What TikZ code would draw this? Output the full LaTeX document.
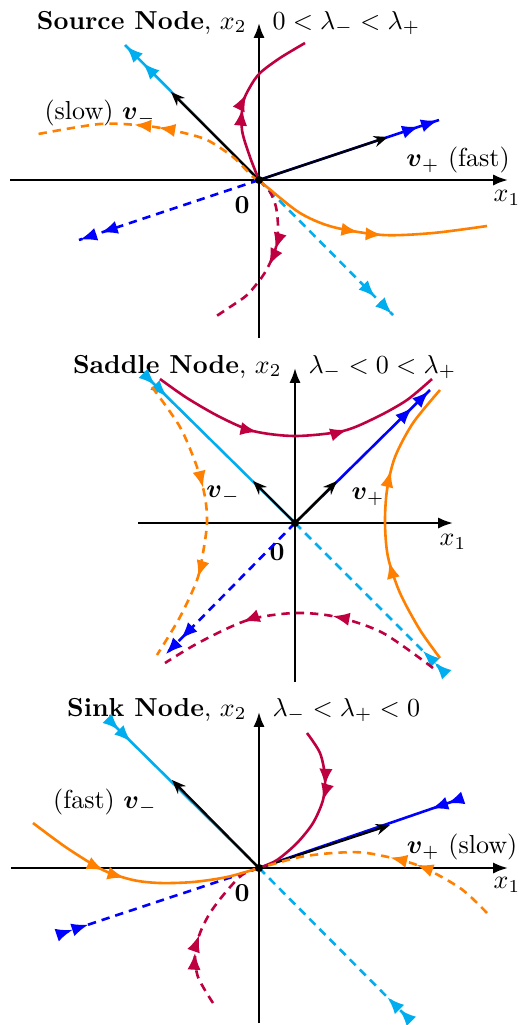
\documentclass[tikz,border=0pt]{standalone}
\usepackage{amsmath,amssymb}
\usepackage{xcolor}
\usepackage{tikz}
\usetikzlibrary{arrows.meta,positioning,decorations.markings}
\definecolor{EigCyan}{HTML}{00AEEF}
\definecolor{EigBlue}{HTML}{0000FF}
\definecolor{TrajRed}{HTML}{BF0040}
\definecolor{TrajOrange}{HTML}{FF8000}

\begin{document}
\begin{tikzpicture}[
  x=0.0135cm, y=0.0135cm,
  axis/.style={line width=0.9pt, -{Latex[length=2mm,width=1.5mm]}},
  vec/.style={line width=0.9pt, black, -{Stealth[length=1.9mm,width=1.5mm]}},
  eig/.style={line width=1pt},
  traj/.style={line width=1pt},
  dashes/.style={dash pattern=on 3.2pt off 2.3pt},
  tips/.style 2 args={postaction={decorate}, decoration={markings,
    mark=at position #1 with {\arrow{Latex[length=2.3mm,width=1.8mm]}},
    mark=at position #2 with {\arrow{Latex[length=2.3mm,width=1.8mm]}}}},
  rtips/.style 2 args={postaction={decorate}, decoration={markings,
    mark=at position #1 with {\arrowreversed{Latex[length=2.3mm,width=1.8mm]}},
    mark=at position #2 with {\arrowreversed{Latex[length=2.3mm,width=1.8mm]}}}},
  origin/.style={circle, fill=black, inner sep=0pt, minimum size=1.1mm},
  head/.style={inner sep=0pt},
  lbl/.style={inner sep=1pt}
]
\useasboundingbox (0,0) rectangle (521,-1025);

% source node
\begin{scope}[shift={(259,-180)}]
\draw[axis] (-249,0) -- (249,0);
\draw[axis] (0,-158) -- (0,157);
\node[head, anchor=base east] (src) at (-12,151) {\textbf{Source Node}, $x_2$};
\node[head, anchor=base west] (srccond) at (13,151) {$0<\lambda_-<\lambda_+$};
\node (xa1) at (248,-18) {$x_1$};
\node (zero1) at (-17,-25) {$\mathbf{0}$};
\draw[eig, EigCyan, tips={0.87}{0.995}] (0,0) -- (-134,135);
\draw[eig, EigCyan, dashes, tips={0.87}{0.995}] (0,0) -- (134,-135);
\draw[eig, EigBlue, tips={0.89}{0.995}] (0,0) -- (180,60);
\draw[eig, EigBlue, dashes, tips={0.88}{0.995}] (0,0) -- (-180,-60);
\draw[vec] (0,0) -- (-88,88);
\draw[vec] (0,0) -- (129,43);
\draw[traj, TrajRed, tips={0.44}{0.53}] plot[smooth] coordinates
  {(0,0) (-9,23) (-17,50) (-16,77) (-9,93) (1,107) (21,122) (46,137)};
\draw[traj, TrajRed, dashes, tips={0.45}{0.55}] plot[smooth] coordinates
  {(0,0) (11,-12) (17,-27) (19,-47) (17,-67) (11,-83) (3,-97) (-12,-115) (-29,-127) (-44,-137)};
\draw[traj, TrajOrange, tips={0.47}{0.57}] plot[smooth] coordinates
  {(0,0) (8,-7) (41,-33) (74,-47) (124,-55) (174,-53) (228,-46)};
\draw[traj, TrajOrange, dashes, tips={0.48}{0.58}] plot[smooth] coordinates
  {(0,0) (-6,3) (-26,23) (-52,40) (-79,48) (-112,54) (-159,56) (-226,45)};
\node[lbl] (slow1) at (-159,67) {(slow) $\boldsymbol{v}_-$};
\node[lbl] (fast1) at (199,20) {$\boldsymbol{v}_+$ (fast)};
\node[origin] (O1) at (0,0) {};
\end{scope}

% saddle node
\begin{scope}[shift={(295,-523)}]
\draw[axis] (-157,0) -- (158,0);
\draw[axis] (0,-159) -- (0,155);
\node[head, anchor=base east] (sad) at (-13,150) {\textbf{Saddle Node}, $x_2$};
\node[head, anchor=base west] (sadcond) at (13,150) {$\lambda_-<0<\lambda_+$};
\node (xa2) at (158,-19) {$x_1$};
\node (zero2) at (-18,-29) {$\mathbf{0}$};
\draw[eig, EigCyan, rtips={0.87}{0.95}] (0,0) -- (-147,145);
\draw[eig, EigCyan, dashes, rtips={0.87}{0.95}] (0,0) -- (147,-147);
\draw[eig, EigBlue, tips={0.87}{0.995}] (0,0) -- (135,133);
\draw[eig, EigBlue, dashes, tips={0.88}{0.995}] (0,0) -- (-130,-132);
\draw[vec] (0,0) -- (-42,42);
\draw[vec] (0,0) -- (42,42);
\draw[traj, TrajRed, tips={0.37}{0.67}] plot[smooth] coordinates
  {(-135,144) (-108,125) (-75,106) (-42,92) (0,87) (48,92) (82,106) (112,123) (137,144)};
\draw[traj, TrajRed, dashes, tips={0.39}{0.70}] plot[smooth] coordinates
  {(138,-145) (88,-110) (42,-94) (0,-90) (-47,-97) (-95,-119) (-130,-140)};
\draw[traj, TrajOrange, dashes, tips={0.39}{0.70}] plot[smooth] coordinates
  {(-143,136) (-115,96) (-98,56) (-90,26) (-88,0) (-92,-30) (-98,-57) (-115,-94) (-138,-132)};
\draw[traj, TrajOrange, tips={0.37}{0.68}] plot[smooth] coordinates
  {(145,-135) (125,-107) (105,-70) (93,-34) (90,0) (92,33) (100,66) (118,100) (145,133)};
\node[lbl] (vm2) at (-72,28) {$\boldsymbol{v}_-$};
\node[lbl] (vp2) at (73,26) {$\boldsymbol{v}_+$};
\node[origin] (O2) at (0,0) {};
\end{scope}

% sink node
\begin{scope}[shift={(259,-868)}]
\draw[axis] (-248,0) -- (249,0);
\draw[axis] (0,-155) -- (0,156);
\node[head, anchor=base east] (snk) at (-12,152) {\textbf{Sink Node}, $x_2$};
\node[head, anchor=base west] (snkcond) at (13,152) {$\lambda_-<\lambda_+<0$};
\node (xa3) at (248,-17) {$x_1$};
\node (zero3) at (-17,-25) {$\mathbf{0}$};
\draw[eig, EigCyan, rtips={0.87}{0.95}] (0,0) -- (-147,145);
\draw[eig, EigCyan, dashes, rtips={0.87}{0.95}] (0,0) -- (148,-149);
\draw[eig, EigBlue, rtips={0.87}{0.95}] (0,0) -- (198,68);
\draw[eig, EigBlue, dashes, rtips={0.87}{0.95}] (0,0) -- (-196,-65);
\draw[vec] (0,0) -- (-87,88);
\draw[vec] (0,0) -- (131,43);
\draw[traj, TrajRed, tips={0.34}{0.43}] plot[smooth] coordinates
  {(48,135) (61,115) (66,91) (64,68) (54,45) (38,25) (18,8) (0,0)};
\draw[traj, TrajRed, dashes, tips={0.33}{0.44}] plot[smooth] coordinates
  {(-46,-135) (-61,-109) (-64,-85) (-59,-65) (-49,-45) (-34,-25) (-17,-7) (0,0)};
\draw[traj, TrajOrange, tips={0.35}{0.44}] plot[smooth] coordinates
  {(-226,45) (-192,20) (-156,-2) (-126,-12) (-99,-15) (-66,-14) (-32,-9) (0,0)};
\draw[traj, TrajOrange, dashes, tips={0.35}{0.46}] plot[smooth] coordinates
  {(228,-45) (201,-20) (158,3) (108,15) (74,15) (41,11) (11,3) (0,0)};
\node[lbl] (fast3) at (-154,66) {(fast) $\boldsymbol{v}_-$};
\node[lbl] (slow3) at (203,21) {$\boldsymbol{v}_+$ (slow)};
\node[origin] (O3) at (0,0) {};
\end{scope}
\end{tikzpicture}
\end{document}
